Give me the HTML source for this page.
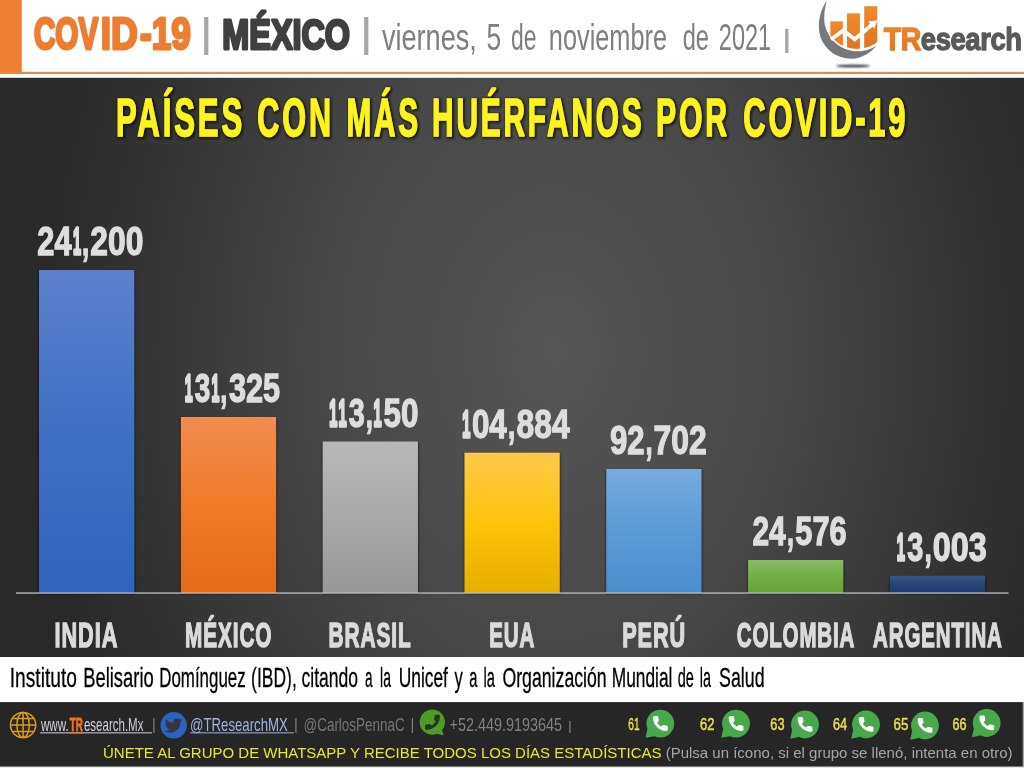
<!DOCTYPE html>
<html lang="es"><head><meta charset="utf-8"><title>COVID-19 | MÉXICO</title>
<style>
html,body{margin:0;padding:0;background:#fff;}
body{width:1024px;height:768px;overflow:hidden;}
svg{display:block;font-family:"Liberation Sans",sans-serif;}
text{white-space:pre;}
</style></head><body>
<svg width="1024" height="768" viewBox="0 0 1024 768">
<defs>
<radialGradient id="bg" gradientUnits="userSpaceOnUse" cx="555" cy="350" r="520" gradientTransform="translate(555 350) scale(1 1.35) translate(-555 -350)">
<stop offset="0" stop-color="#565656"/><stop offset="0.45" stop-color="#474747"/><stop offset="0.8" stop-color="#343434"/><stop offset="1" stop-color="#292929"/>
</radialGradient>

<linearGradient id="g0" x1="0" y1="0" x2="0" y2="1"><stop offset="0" stop-color="#5c81cc"/><stop offset="0.5" stop-color="#4070c5"/><stop offset="1" stop-color="#3263be"/></linearGradient>
<linearGradient id="g1" x1="0" y1="0" x2="0" y2="1"><stop offset="0" stop-color="#f28c50"/><stop offset="0.5" stop-color="#f07a26"/><stop offset="1" stop-color="#e36b1a"/></linearGradient>
<linearGradient id="g2" x1="0" y1="0" x2="0" y2="1"><stop offset="0" stop-color="#b8b8b8"/><stop offset="0.5" stop-color="#a8a8a8"/><stop offset="1" stop-color="#989898"/></linearGradient>
<linearGradient id="g3" x1="0" y1="0" x2="0" y2="1"><stop offset="0" stop-color="#ffc94a"/><stop offset="0.5" stop-color="#ffc30a"/><stop offset="1" stop-color="#e6ae00"/></linearGradient>
<linearGradient id="g4" x1="0" y1="0" x2="0" y2="1"><stop offset="0" stop-color="#76abe0"/><stop offset="0.5" stop-color="#5b9bd5"/><stop offset="1" stop-color="#4a8dcd"/></linearGradient>
<linearGradient id="g5" x1="0" y1="0" x2="0" y2="1"><stop offset="0" stop-color="#86bc62"/><stop offset="0.5" stop-color="#72b046"/><stop offset="1" stop-color="#64a23a"/></linearGradient>
<linearGradient id="g6" x1="0" y1="0" x2="0" y2="1"><stop offset="0" stop-color="#3a5688"/><stop offset="0.5" stop-color="#264478"/><stop offset="1" stop-color="#1f3c70"/></linearGradient>
<linearGradient id="og" x1="0" y1="0" x2="0" y2="1"><stop offset="0" stop-color="#f08a2c"/><stop offset="1" stop-color="#e4701e"/></linearGradient>
<filter id="bsh" x="-20%" y="-20%" width="140%" height="140%"><feGaussianBlur stdDeviation="1.3"/></filter>
<filter id="tsh" x="-2%" y="-30%" width="104%" height="160%"><feMorphology in="SourceAlpha" operator="dilate" radius="0.9"/><feGaussianBlur stdDeviation="1.1"/><feOffset dx="0.6" dy="0.6"/><feComponentTransfer><feFuncA type="linear" slope="0.62"/></feComponentTransfer><feMerge><feMergeNode/><feMergeNode in="SourceGraphic"/></feMerge></filter>
<filter id="lsh" x="-20%" y="-200%" width="140%" height="500%"><feGaussianBlur stdDeviation="0.9"/></filter>
<clipPath id="lc"><circle cx="857" cy="16.5" r="32.6"/></clipPath>
</defs>

<rect x="0" y="0" width="1024" height="768" fill="#fff"/>
<rect x="0" y="0" width="21.8" height="74" fill="#ed7d31"/>
<rect x="0" y="71.8" width="1024" height="2.2" fill="#e8883c"/>
<text transform="translate(33.88 49.20) scale(0.6641 1)" font-size="44.77" font-weight="bold" fill="#ed7d31" stroke="#ed7d31" stroke-width="2.6" stroke-linejoin="round" vector-effect="non-scaling-stroke">COV</text><text transform="translate(100.72 49.20) scale(0.8297 1)" font-size="44.77" font-weight="bold" fill="#ed7d31" stroke="#ed7d31" stroke-width="2.6" stroke-linejoin="round" vector-effect="non-scaling-stroke">ID</text><text transform="translate(139.93 49.20) scale(0.7847 1)" font-size="44.77" font-weight="bold" fill="#ed7d31" stroke="#ed7d31" stroke-width="2.6" stroke-linejoin="round" vector-effect="non-scaling-stroke">-19</text>
<text transform="translate(199.57 46.51) scale(1.2941 1)" font-size="40.04" fill="#a6a6a6">|</text>
<text transform="translate(222.33 48.90) scale(0.7526 1)" font-size="43.02" font-weight="bold" fill="#404040" stroke="#404040" stroke-width="2.6" stroke-linejoin="round" vector-effect="non-scaling-stroke">MÉXICO</text>
<text transform="translate(359.57 46.51) scale(1.2941 1)" font-size="40.04" fill="#a6a6a6">|</text>
<text transform="translate(381.91 50.00) scale(0.7182 1)" font-size="37.79" font-weight="normal" fill="#7f7f7f">viernes,</text>
<text transform="translate(486.44 50.00) scale(0.6976 1)" font-size="37.79" font-weight="normal" fill="#7f7f7f">5</text>
<text transform="translate(511.04 50.00) scale(0.6062 1)" font-size="37.79" font-weight="normal" fill="#7f7f7f">de</text>
<text transform="translate(548.82 50.00) scale(0.6705 1)" font-size="37.79" font-weight="normal" fill="#7f7f7f">noviembre</text>
<text transform="translate(682.71 50.00) scale(0.6268 1)" font-size="37.79" font-weight="normal" fill="#7f7f7f">de</text>
<text transform="translate(718.82 50.00) scale(0.6225 1)" font-size="37.79" font-weight="normal" fill="#7f7f7f">2021</text>
<text transform="translate(781.56 47.74) scale(1.5252 1)" font-size="26.69" fill="#a6a6a6">|</text>
<g id="logo">
<ellipse cx="853" cy="66" rx="17" ry="1.3" fill="#333" filter="url(#lsh)"/>
<path d="M826.9 0.6 C821.5 8.5 818.7 17.5 818.90 27.00 A31.7 31.7 0 0 0 876.10 45.83 A33.7 33.7 0 0 1 824.61 24 C823.6 16 824.6 8 826.9 0.6 Z" fill="#77787b"/>
<g clip-path="url(#lc)">
<rect x="830.3" y="21.4" width="12.6" height="40" fill="url(#og)"/>
<rect x="847" y="13.3" width="12.9" height="40" fill="url(#og)"/>
<rect x="864.2" y="6.2" width="13.1" height="45" fill="url(#og)"/>
</g>
<path d="M831 39.6 L843.3 30.4 L854.8 39.2 L872.5 24.2" fill="none" stroke="#fff" stroke-width="3.8"/>
<path d="M868.3 21.6 L877.4 20.2 L874.2 28.8 Z" fill="#fff"/>
</g>
<text transform="translate(883.76 50.05) scale(0.8873 1)" font-size="32.12" font-weight="bold" fill="url(#og)" stroke="url(#og)" stroke-width="1.3" stroke-linejoin="round" letter-spacing="-0.500">TR</text><text transform="translate(920.78 50.05) scale(0.8558 1)" font-size="32.12" font-weight="bold" fill="#58595b" stroke="#58595b" stroke-width="1.3" stroke-linejoin="round" letter-spacing="-0.500">esearch</text>
<rect x="0" y="77.8" width="1024" height="579.2" fill="url(#bg)"/>
<g filter="url(#tsh)">
<text transform="translate(116.02 135.60) scale(0.5805 1)" font-size="53.49" font-weight="bold" fill="#fcf41c" stroke="#fcf41c" stroke-width="1.2" stroke-linejoin="miter" stroke-miterlimit="2" vector-effect="non-scaling-stroke" letter-spacing="5.000">PAÍSES</text>
<text transform="translate(257.35 135.60) scale(0.5713 1)" font-size="53.49" font-weight="bold" fill="#fcf41c" stroke="#fcf41c" stroke-width="1.2" stroke-linejoin="miter" stroke-miterlimit="2" vector-effect="non-scaling-stroke" letter-spacing="5.000">CON</text>
<text transform="translate(346.62 135.60) scale(0.5544 1)" font-size="53.49" font-weight="bold" fill="#fcf41c" stroke="#fcf41c" stroke-width="1.2" stroke-linejoin="miter" stroke-miterlimit="2" vector-effect="non-scaling-stroke" letter-spacing="5.000">MÁS</text>
<text transform="translate(432.11 135.60) scale(0.5573 1)" font-size="53.49" font-weight="bold" fill="#fcf41c" stroke="#fcf41c" stroke-width="1.2" stroke-linejoin="miter" stroke-miterlimit="2" vector-effect="non-scaling-stroke" letter-spacing="5.000">HUÉRFANOS</text>
<text transform="translate(656.08 135.60) scale(0.5634 1)" font-size="53.49" font-weight="bold" fill="#fcf41c" stroke="#fcf41c" stroke-width="1.2" stroke-linejoin="miter" stroke-miterlimit="2" vector-effect="non-scaling-stroke" letter-spacing="5.000">POR</text>
<text transform="translate(743.34 135.60) scale(0.5758 1)" font-size="53.49" font-weight="bold" fill="#fcf41c" stroke="#fcf41c" stroke-width="1.2" stroke-linejoin="miter" stroke-miterlimit="2" vector-effect="non-scaling-stroke" letter-spacing="5.000">COVID-19</text>
</g>
<g filter="url(#bsh)" opacity="0.5">
<rect x="38.55" y="271" width="96.5" height="323.0" fill="#000"/>
<rect x="180.35000000000002" y="418" width="96.5" height="176.0" fill="#000"/>
<rect x="322.15000000000003" y="442.5" width="96.5" height="151.5" fill="#000"/>
<rect x="463.95000000000005" y="453.7" width="96.5" height="140.3" fill="#000"/>
<rect x="605.75" y="470" width="96.5" height="124.0" fill="#000"/>
<rect x="747.55" y="561" width="96.5" height="33.0" fill="#000"/>
<rect x="889.35" y="576.7" width="96.5" height="17.299999999999955" fill="#000"/>
</g>
<rect x="39.05" y="270" width="95.3" height="323.0" fill="url(#g0)"/>
<rect x="180.85000000000002" y="417" width="95.3" height="176.0" fill="url(#g1)"/>
<rect x="322.65000000000003" y="441.5" width="95.3" height="151.5" fill="url(#g2)"/>
<rect x="464.45000000000005" y="452.7" width="95.3" height="140.3" fill="url(#g3)"/>
<rect x="606.25" y="469" width="95.3" height="124.0" fill="url(#g4)"/>
<rect x="748.05" y="560" width="95.3" height="33.0" fill="url(#g5)"/>
<rect x="889.85" y="575.7" width="95.3" height="17.3" fill="url(#g6)"/>
<rect x="16" y="592.4" width="992.5" height="1.3" fill="#bfbfbf"/>
<text font-weight="bold" fill="#dedede" stroke="#dedede"><tspan x="37.33" y="255.05" font-size="39.97" stroke-width="1.3" stroke-linejoin="miter" textLength="34.26" lengthAdjust="spacingAndGlyphs">24</tspan><tspan x="73.09" y="254.00" font-size="36.92" stroke-width="3.4" stroke-linejoin="round" textLength="8.01" lengthAdjust="spacingAndGlyphs">1</tspan><tspan x="82.00" y="255.05" font-size="39.97" stroke-width="1.3" stroke-linejoin="miter" textLength="7.15" lengthAdjust="spacingAndGlyphs">,</tspan><tspan x="90.32" y="255.05" font-size="39.97" stroke-width="1.3" stroke-linejoin="miter" textLength="52.97" lengthAdjust="spacingAndGlyphs">200</tspan></text>
<text font-weight="bold" fill="#dedede" stroke="#dedede"><tspan x="184.76" y="401.00" font-size="36.92" stroke-width="3.4" stroke-linejoin="round" textLength="7.87" lengthAdjust="spacingAndGlyphs">1</tspan><tspan x="194.78" y="402.05" font-size="39.97" stroke-width="1.3" stroke-linejoin="miter" textLength="15.54" lengthAdjust="spacingAndGlyphs">3</tspan><tspan x="211.59" y="401.00" font-size="36.92" stroke-width="3.4" stroke-linejoin="round" textLength="7.87" lengthAdjust="spacingAndGlyphs">1</tspan><tspan x="220.34" y="402.05" font-size="39.97" stroke-width="1.3" stroke-linejoin="miter" textLength="7.02" lengthAdjust="spacingAndGlyphs">,</tspan><tspan x="228.89" y="402.05" font-size="39.97" stroke-width="1.3" stroke-linejoin="miter" textLength="51.27" lengthAdjust="spacingAndGlyphs">325</tspan></text>
<text font-weight="bold" fill="#dedede" stroke="#dedede"><tspan x="329.25" y="425.50" font-size="36.92" stroke-width="3.4" stroke-linejoin="round" textLength="8.10" lengthAdjust="spacingAndGlyphs">1</tspan><tspan x="338.39" y="425.50" font-size="36.92" stroke-width="3.4" stroke-linejoin="round" textLength="8.10" lengthAdjust="spacingAndGlyphs">1</tspan><tspan x="348.69" y="426.55" font-size="39.97" stroke-width="1.3" stroke-linejoin="miter" textLength="15.99" lengthAdjust="spacingAndGlyphs">3</tspan><tspan x="365.86" y="426.55" font-size="39.97" stroke-width="1.3" stroke-linejoin="miter" textLength="7.23" lengthAdjust="spacingAndGlyphs">,</tspan><tspan x="373.51" y="425.50" font-size="36.92" stroke-width="3.4" stroke-linejoin="round" textLength="8.10" lengthAdjust="spacingAndGlyphs">1</tspan><tspan x="383.55" y="426.55" font-size="39.97" stroke-width="1.3" stroke-linejoin="miter" textLength="34.93" lengthAdjust="spacingAndGlyphs">50</tspan></text>
<text font-weight="bold" fill="#dedede" stroke="#dedede"><tspan x="462.15" y="436.70" font-size="36.92" stroke-width="3.4" stroke-linejoin="round" textLength="8.09" lengthAdjust="spacingAndGlyphs">1</tspan><tspan x="471.91" y="437.75" font-size="39.97" stroke-width="1.3" stroke-linejoin="miter" textLength="34.77" lengthAdjust="spacingAndGlyphs">04</tspan><tspan x="508.06" y="437.75" font-size="39.97" stroke-width="1.3" stroke-linejoin="miter" textLength="7.22" lengthAdjust="spacingAndGlyphs">,</tspan><tspan x="516.57" y="437.75" font-size="39.97" stroke-width="1.3" stroke-linejoin="miter" textLength="52.98" lengthAdjust="spacingAndGlyphs">884</tspan></text>
<text font-weight="bold" fill="#dedede" stroke="#dedede"><tspan x="609.93" y="454.05" font-size="39.97" stroke-width="1.3" stroke-linejoin="miter" textLength="34.62" lengthAdjust="spacingAndGlyphs">92</tspan><tspan x="645.54" y="454.05" font-size="39.97" stroke-width="1.3" stroke-linejoin="miter" textLength="7.14" lengthAdjust="spacingAndGlyphs">,</tspan><tspan x="653.59" y="454.05" font-size="39.97" stroke-width="1.3" stroke-linejoin="miter" textLength="53.17" lengthAdjust="spacingAndGlyphs">702</tspan></text>
<text font-weight="bold" fill="#dedede" stroke="#dedede"><tspan x="752.45" y="545.05" font-size="39.97" stroke-width="1.3" stroke-linejoin="miter" textLength="33.34" lengthAdjust="spacingAndGlyphs">24</tspan><tspan x="787.12" y="545.05" font-size="39.97" stroke-width="1.3" stroke-linejoin="miter" textLength="6.96" lengthAdjust="spacingAndGlyphs">,</tspan><tspan x="795.34" y="545.05" font-size="39.97" stroke-width="1.3" stroke-linejoin="miter" textLength="51.27" lengthAdjust="spacingAndGlyphs">576</tspan></text>
<text font-weight="bold" fill="#dedede" stroke="#dedede"><tspan x="896.75" y="559.70" font-size="36.92" stroke-width="3.4" stroke-linejoin="round" textLength="8.16" lengthAdjust="spacingAndGlyphs">1</tspan><tspan x="907.13" y="560.75" font-size="39.97" stroke-width="1.3" stroke-linejoin="miter" textLength="16.10" lengthAdjust="spacingAndGlyphs">3</tspan><tspan x="924.41" y="560.75" font-size="39.97" stroke-width="1.3" stroke-linejoin="miter" textLength="7.28" lengthAdjust="spacingAndGlyphs">,</tspan><tspan x="932.73" y="560.75" font-size="39.97" stroke-width="1.3" stroke-linejoin="miter" textLength="53.92" lengthAdjust="spacingAndGlyphs">003</tspan></text>
<text transform="translate(54.55 647.20) scale(0.6223 1)" font-size="34.88" font-weight="bold" fill="#dbdbdb" stroke="#dbdbdb" stroke-width="1.2" stroke-linejoin="miter" stroke-miterlimit="2" vector-effect="non-scaling-stroke" letter-spacing="1.500">INDIA</text>
<text transform="translate(185.11 647.20) scale(0.5951 1)" font-size="34.88" font-weight="bold" fill="#dbdbdb" stroke="#dbdbdb" stroke-width="1.2" stroke-linejoin="miter" stroke-miterlimit="2" vector-effect="non-scaling-stroke" letter-spacing="1.500">MÉXICO</text>
<text transform="translate(328.61 647.20) scale(0.5973 1)" font-size="34.88" font-weight="bold" fill="#dbdbdb" stroke="#dbdbdb" stroke-width="1.2" stroke-linejoin="miter" stroke-miterlimit="2" vector-effect="non-scaling-stroke" letter-spacing="1.500">BRASIL</text>
<text transform="translate(489.22 647.20) scale(0.5899 1)" font-size="34.88" font-weight="bold" fill="#dbdbdb" stroke="#dbdbdb" stroke-width="1.2" stroke-linejoin="miter" stroke-miterlimit="2" vector-effect="non-scaling-stroke" letter-spacing="1.500">EUA</text>
<text transform="translate(622.15 647.20) scale(0.6219 1)" font-size="34.88" font-weight="bold" fill="#dbdbdb" stroke="#dbdbdb" stroke-width="1.2" stroke-linejoin="miter" stroke-miterlimit="2" vector-effect="non-scaling-stroke" letter-spacing="1.500">PERÚ</text>
<text transform="translate(736.76 647.20) scale(0.5872 1)" font-size="34.88" font-weight="bold" fill="#dbdbdb" stroke="#dbdbdb" stroke-width="1.2" stroke-linejoin="miter" stroke-miterlimit="2" vector-effect="non-scaling-stroke" letter-spacing="1.500">COLOMBIA</text>
<text transform="translate(873.09 647.20) scale(0.5874 1)" font-size="34.88" font-weight="bold" fill="#dbdbdb" stroke="#dbdbdb" stroke-width="1.2" stroke-linejoin="miter" stroke-miterlimit="2" vector-effect="non-scaling-stroke" letter-spacing="1.500">ARGENTINA</text>
<g id="source">
<text transform="translate(9.73 686.85) scale(0.6838 1)" font-size="28.05" font-weight="normal" fill="#000" stroke="#000" stroke-width="0.3" stroke-linejoin="round">Instituto</text>
<text transform="translate(83.19 686.85) scale(0.6561 1)" font-size="28.05" font-weight="normal" fill="#000" stroke="#000" stroke-width="0.3" stroke-linejoin="round">Belisario</text>
<text transform="translate(159.20 686.85) scale(0.6033 1)" font-size="28.05" font-weight="normal" fill="#000" stroke="#000" stroke-width="0.3" stroke-linejoin="round">Domínguez</text>
<text transform="translate(251.11 686.85) scale(0.6235 1)" font-size="28.05" font-weight="normal" fill="#000" stroke="#000" stroke-width="0.3" stroke-linejoin="round">(IBD),</text>
<text transform="translate(301.45 686.85) scale(0.6268 1)" font-size="28.05" font-weight="normal" fill="#000" stroke="#000" stroke-width="0.3" stroke-linejoin="round">citando</text>
<text transform="translate(365.10 686.85) scale(0.4827 1)" font-size="28.05" font-weight="normal" fill="#000" stroke="#000" stroke-width="0.3" stroke-linejoin="round">a</text>
<text transform="translate(380.03 686.85) scale(0.4989 1)" font-size="28.05" font-weight="normal" fill="#000" stroke="#000" stroke-width="0.3" stroke-linejoin="round">la</text>
<text transform="translate(398.65 686.85) scale(0.6204 1)" font-size="28.05" font-weight="normal" fill="#000" stroke="#000" stroke-width="0.3" stroke-linejoin="round">Unicef</text>
<text transform="translate(454.55 686.85) scale(0.5914 1)" font-size="28.05" font-weight="normal" fill="#000" stroke="#000" stroke-width="0.3" stroke-linejoin="round">y</text>
<text transform="translate(469.15 686.85) scale(0.5235 1)" font-size="28.05" font-weight="normal" fill="#000" stroke="#000" stroke-width="0.3" stroke-linejoin="round">a</text>
<text transform="translate(483.59 686.85) scale(0.5236 1)" font-size="28.05" font-weight="normal" fill="#000" stroke="#000" stroke-width="0.3" stroke-linejoin="round">la</text>
<text transform="translate(502.46 686.85) scale(0.6310 1)" font-size="28.05" font-weight="normal" fill="#000" stroke="#000" stroke-width="0.3" stroke-linejoin="round">Organización</text>
<text transform="translate(611.77 686.85) scale(0.6178 1)" font-size="28.05" font-weight="normal" fill="#000" stroke="#000" stroke-width="0.3" stroke-linejoin="round">Mundial</text>
<text transform="translate(677.67 686.85) scale(0.5193 1)" font-size="28.05" font-weight="normal" fill="#000" stroke="#000" stroke-width="0.3" stroke-linejoin="round">de</text>
<text transform="translate(699.71 686.85) scale(0.5137 1)" font-size="28.05" font-weight="normal" fill="#000" stroke="#000" stroke-width="0.3" stroke-linejoin="round">la</text>
<text transform="translate(719.09 686.85) scale(0.6336 1)" font-size="28.05" font-weight="normal" fill="#000" stroke="#000" stroke-width="0.3" stroke-linejoin="round">Salud</text>
</g>
<rect x="0" y="702" width="1024" height="66" fill="#a6a6a6"/>
<rect x="0" y="702.2" width="1022.7" height="64.5" fill="#262626"/>
<rect x="0" y="766.7" width="1024" height="1.3" fill="#e6e6e6"/>
<g fill="none" stroke="#dc9c1c" stroke-width="1.5">
<circle cx="23.1" cy="725" r="12.6"/>
<ellipse cx="23.1" cy="725" rx="6.2" ry="12.6"/>
<path d="M23.1 712.4V737.6M10.5 725H35.7M12.6 718.6H33.6M12.6 731.4H33.6"/>
</g>
<text transform="translate(41.02 731.00) scale(0.6218 1)" font-size="18.60" font-weight="normal" fill="#cfcfdc">www.</text><text transform="translate(69.71 730.60) scale(0.5618 1)" font-size="17.44" font-weight="bold" fill="#ec7424" stroke="#ec7424" stroke-width="0.8" stroke-linejoin="round">TR</text><text transform="translate(83.91 731.00) scale(0.6200 1)" font-size="18.60" font-weight="normal" fill="#cfcfdc">esearch.Mx</text>
<rect x="40.3" y="732.3" width="111.6" height="1.1" fill="#c4c4d0"/>
<rect x="69" y="732.3" width="14.5" height="1.1" fill="#ec7424"/>
<text transform="translate(151.98 729.52) scale(0.9003 1)" font-size="16.44" fill="#7f7f7f">|</text>
<circle cx="173.7" cy="725.3" r="13.2" fill="#2b63c1"/>
<path transform="translate(164.6 716.6) scale(0.74)" fill="#34373f" d="M23.953 4.57a10 10 0 01-2.825.775 4.958 4.958 0 002.163-2.723c-.951.555-2.005.959-3.127 1.184a4.92 4.92 0 00-8.384 4.482C7.69 8.095 4.067 6.13 1.64 3.162a4.822 4.822 0 00-.666 2.475c0 1.71.87 3.213 2.188 4.096a4.904 4.904 0 01-2.228-.616v.06a4.923 4.923 0 003.946 4.827 4.996 4.996 0 01-2.212.085 4.936 4.936 0 004.604 3.417 9.867 9.867 0 01-6.102 2.105c-.39 0-.779-.023-1.17-.067a13.995 13.995 0 007.557 2.209c9.053 0 13.998-7.496 13.998-13.985 0-.21 0-.42-.015-.63A9.935 9.935 0 0024 4.59z"/>
<text transform="translate(189.96 731.00) scale(0.7121 1)" font-size="18.60" font-weight="normal" fill="#9fb4e2">@TResearchMX</text>
<rect x="190.3" y="732.3" width="103.5" height="1.1" fill="#97a6cc"/>
<text transform="translate(293.88 729.52) scale(0.9003 1)" font-size="16.44" fill="#7f7f7f">|</text>
<text transform="translate(303.54 731.00) scale(0.7240 1)" font-size="18.60" font-weight="normal" fill="#767676">@CarlosPennaC</text>
<text transform="translate(410.48 729.52) scale(0.9003 1)" font-size="16.44" fill="#7f7f7f">|</text>
<circle cx="432.3" cy="722.2" r="12.6" fill="#4f9a29"/>
<path d="M436 733.5 L443.5 735.5 L441.5 728 Z" fill="#4f9a29"/>
<path transform="translate(441.6 713.2) scale(-0.76 0.76)" fill="#26381f" stroke="#26381f" stroke-width="1.6" stroke-linejoin="round" d="M6.62 10.79c1.44 2.83 3.76 5.14 6.59 6.59l2.2-2.2c.27-.27.67-.36 1.02-.24 1.12.37 2.33.57 3.57.57.55 0 1 .45 1 1V20c0 .55-.45 1-1 1-9.39 0-17-7.61-17-17 0-.55.45-1 1-1h3.5c.55 0 1 .45 1 1 0 1.25.2 2.45.57 3.57.11.35.03.74-.25 1.02l-2.2 2.2z"/>
<text transform="translate(449.50 730.80) scale(0.7753 1)" font-size="18.60" font-weight="normal" fill="#808080">+52.449.9193645</text>
<text transform="translate(568.08 730.28) scale(1.1554 1)" font-size="12.81" fill="#7f7f7f">|</text>
<text transform="translate(628.24 730.35) scale(0.6407 1)" font-size="15.84" font-weight="normal" fill="#eadc4e" stroke="#eadc4e" stroke-width="0.5" stroke-linejoin="round">61</text>
<g transform="translate(660.3 723.6)"><circle r="13.9" fill="#48a84c"/><path d="M-12.9 5.5 L-14.7 14.2 L-6.2 12.6 Z" fill="#48a84c"/><path transform="translate(-8.9 -9.1) scale(0.75)" fill="#fff" stroke="#fff" stroke-width="1.7" stroke-linejoin="round" d="M6.62 10.79c1.44 2.83 3.76 5.14 6.59 6.59l2.2-2.2c.27-.27.67-.36 1.02-.24 1.12.37 2.33.57 3.57.57.55 0 1 .45 1 1V20c0 .55-.45 1-1 1-9.39 0-17-7.61-17-17 0-.55.45-1 1-1h3.5c.55 0 1 .45 1 1 0 1.25.2 2.45.57 3.57.11.35.03.74-.25 1.02l-2.2 2.2z"/></g>
<text transform="translate(700.05 730.35) scale(0.8171 1)" font-size="15.84" font-weight="normal" fill="#eadc4e" stroke="#eadc4e" stroke-width="0.5" stroke-linejoin="round">62</text>
<g transform="translate(736 723.6)"><circle r="13.9" fill="#48a84c"/><path d="M-12.9 5.5 L-14.7 14.2 L-6.2 12.6 Z" fill="#48a84c"/><path transform="translate(-8.9 -9.1) scale(0.75)" fill="#fff" stroke="#fff" stroke-width="1.7" stroke-linejoin="round" d="M6.62 10.79c1.44 2.83 3.76 5.14 6.59 6.59l2.2-2.2c.27-.27.67-.36 1.02-.24 1.12.37 2.33.57 3.57.57.55 0 1 .45 1 1V20c0 .55-.45 1-1 1-9.39 0-17-7.61-17-17 0-.55.45-1 1-1h3.5c.55 0 1 .45 1 1 0 1.25.2 2.45.57 3.57.11.35.03.74-.25 1.02l-2.2 2.2z"/></g>
<text transform="translate(770.35 730.35) scale(0.8062 1)" font-size="15.84" font-weight="normal" fill="#eadc4e" stroke="#eadc4e" stroke-width="0.5" stroke-linejoin="round">63</text>
<g transform="translate(805 724.5)"><circle r="13.9" fill="#48a84c"/><path d="M-12.9 5.5 L-14.7 14.2 L-6.2 12.6 Z" fill="#48a84c"/><path transform="translate(-8.9 -9.1) scale(0.75)" fill="#fff" stroke="#fff" stroke-width="1.7" stroke-linejoin="round" d="M6.62 10.79c1.44 2.83 3.76 5.14 6.59 6.59l2.2-2.2c.27-.27.67-.36 1.02-.24 1.12.37 2.33.57 3.57.57.55 0 1 .45 1 1V20c0 .55-.45 1-1 1-9.39 0-17-7.61-17-17 0-.55.45-1 1-1h3.5c.55 0 1 .45 1 1 0 1.25.2 2.45.57 3.57.11.35.03.74-.25 1.02l-2.2 2.2z"/></g>
<text transform="translate(833.06 730.35) scale(0.8010 1)" font-size="15.84" font-weight="normal" fill="#eadc4e" stroke="#eadc4e" stroke-width="0.5" stroke-linejoin="round">64</text>
<g transform="translate(866 724.5)"><circle r="13.9" fill="#48a84c"/><path d="M-12.9 5.5 L-14.7 14.2 L-6.2 12.6 Z" fill="#48a84c"/><path transform="translate(-8.9 -9.1) scale(0.75)" fill="#fff" stroke="#fff" stroke-width="1.7" stroke-linejoin="round" d="M6.62 10.79c1.44 2.83 3.76 5.14 6.59 6.59l2.2-2.2c.27-.27.67-.36 1.02-.24 1.12.37 2.33.57 3.57.57.55 0 1 .45 1 1V20c0 .55-.45 1-1 1-9.39 0-17-7.61-17-17 0-.55.45-1 1-1h3.5c.55 0 1 .45 1 1 0 1.25.2 2.45.57 3.57.11.35.03.74-.25 1.02l-2.2 2.2z"/></g>
<text transform="translate(893.53 730.35) scale(0.8407 1)" font-size="15.84" font-weight="normal" fill="#eadc4e" stroke="#eadc4e" stroke-width="0.5" stroke-linejoin="round">65</text>
<g transform="translate(925 725.5)"><circle r="13.9" fill="#48a84c"/><path d="M-12.9 5.5 L-14.7 14.2 L-6.2 12.6 Z" fill="#48a84c"/><path transform="translate(-8.9 -9.1) scale(0.75)" fill="#fff" stroke="#fff" stroke-width="1.7" stroke-linejoin="round" d="M6.62 10.79c1.44 2.83 3.76 5.14 6.59 6.59l2.2-2.2c.27-.27.67-.36 1.02-.24 1.12.37 2.33.57 3.57.57.55 0 1 .45 1 1V20c0 .55-.45 1-1 1-9.39 0-17-7.61-17-17 0-.55.45-1 1-1h3.5c.55 0 1 .45 1 1 0 1.25.2 2.45.57 3.57.11.35.03.74-.25 1.02l-2.2 2.2z"/></g>
<text transform="translate(952.56 730.35) scale(0.7941 1)" font-size="15.84" font-weight="normal" fill="#eadc4e" stroke="#eadc4e" stroke-width="0.5" stroke-linejoin="round">66</text>
<g transform="translate(986.7 723)"><circle r="13.9" fill="#48a84c"/><path d="M-12.9 5.5 L-14.7 14.2 L-6.2 12.6 Z" fill="#48a84c"/><path transform="translate(-8.9 -9.1) scale(0.75)" fill="#fff" stroke="#fff" stroke-width="1.7" stroke-linejoin="round" d="M6.62 10.79c1.44 2.83 3.76 5.14 6.59 6.59l2.2-2.2c.27-.27.67-.36 1.02-.24 1.12.37 2.33.57 3.57.57.55 0 1 .45 1 1V20c0 .55-.45 1-1 1-9.39 0-17-7.61-17-17 0-.55.45-1 1-1h3.5c.55 0 1 .45 1 1 0 1.25.2 2.45.57 3.57.11.35.03.74-.25 1.02l-2.2 2.2z"/></g>
<text x="103" y="758" font-size="15" fill="#e8e830">ÚNETE AL GRUPO DE WHATSAPP Y RECIBE TODOS LOS DÍAS ESTADÍSTICAS<tspan fill="#a6a6a6"> (Pulsa un ícono, si el grupo se llenó, intenta en otro)</tspan></text>
</svg></body></html>
